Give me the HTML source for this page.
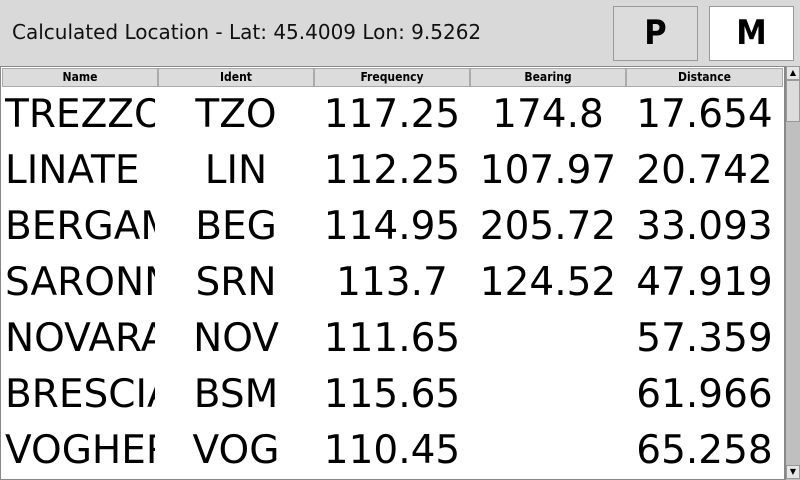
<!DOCTYPE html>
<html><head><meta charset="utf-8"><style>
*{box-sizing:border-box;margin:0;padding:0}
body{width:800px;height:480px;overflow:hidden;background:#d9d9d9;font-family:"DejaVu Sans","Liberation Sans",sans-serif;position:relative}
#title{position:absolute;left:12px;top:20px;font-family:"DejaVu Sans","Liberation Sans",sans-serif;font-size:20px;color:#111;white-space:nowrap}
.btn{position:absolute;top:6px;width:85px;height:55px;border:1px solid #999;font-weight:bold;font-size:34px;text-align:center;line-height:53px;font-family:"DejaVu Sans Condensed","DejaVu Sans",sans-serif}
#table{position:absolute;left:0;top:66px;width:785px;height:414px;background:#fff;border:1px solid #888;overflow:hidden}
.hdr{position:absolute;top:1px;height:19px;background:#dcdcdc;border:1px solid #aaa;font-size:12px;font-weight:bold;text-align:center;line-height:17px;font-family:"DejaVu Sans Condensed","DejaVu Sans",sans-serif}
.cell{position:absolute;height:56px;line-height:56px;font-size:39px;white-space:nowrap;overflow:hidden;color:#000}
#sb{position:absolute;left:785px;top:66px;width:15px;height:414px;background:#bfbfbf;border-left:1px solid #888}
</style></head><body>
<div id="title">Calculated Location - Lat: 45.4009 Lon: 9.5262</div>
<div class="btn" style="left:613px;background:#dcdcdc">P</div>
<div class="btn" style="left:709px;background:#fff">M</div>
<div id="table"></div>
<div id="sb">
<div style="position:absolute;left:0;top:0;width:14px;height:14px;background:#e6e6e6;border:1px solid #999;font-size:8px;text-align:center;line-height:12px">▲</div>
<div style="position:absolute;left:0;top:14px;width:14px;height:42px;background:#dcdcdc;border:1px solid #999"></div>
<div style="position:absolute;left:0;top:399px;width:14px;height:14px;background:#e6e6e6;border:1px solid #999;font-size:8px;text-align:center;line-height:12px">▼</div>
</div>
<script>
const headers=["Name","Ident","Frequency","Bearing","Distance"];
const names=["TREZZO","LINATE","BERGAMO","SARONNO","NOVARA","BRESCIA","VOGHERA"];
const idents=["TZO","LIN","BEG","SRN","NOV","BSM","VOG"];
const freqs=["117.25","112.25","114.95","113.7","111.65","115.65","110.45"];
const bearings=["174.8","107.97","205.72","124.52","","",""];
const dists=["17.654","20.742","33.093","47.919","57.359","61.966","65.258"];
const t=document.getElementById('table');
const colX=[1,157,313,469,625],colW=[156,156,156,156,157];
headers.forEach((h,i)=>{const d=document.createElement('div');d.className='hdr';


d.style.left=colX[i]+'px';d.style.width=colW[i]+'px';d.textContent=h;t.appendChild(d);});
const cols=[names,idents,freqs,bearings,dists];
for(let r=0;r<names.length;r++){cols.forEach((c,i)=>{const d=document.createElement('div');d.className='cell';


d.style.top=(20+r*56)+'px';d.style.left=(i==0?4:colX[i])+'px';d.style.width=(i==0?150:colW[i])+'px';
d.style.textAlign=i==0?'left':'center';d.textContent=c[r];t.appendChild(d);});}
</script>
</body></html>
